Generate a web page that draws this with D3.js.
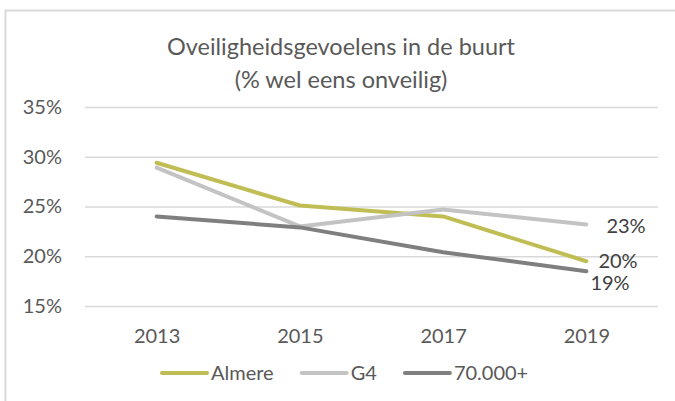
<!DOCTYPE html>
<html>
<head>
<meta charset="utf-8">
<script src="https://cdn.jsdelivr.net/npm/d3@7"></script>
<style>
  body { margin: 0; background: #fff; }
  text { font-family: Lato, "Noto Sans", sans-serif; }
</style>
</head>
<body>
<div id="chart"></div>
<script>
// data
const years = ["2013", "2015", "2017", "2019"];
const almere = [29.4, 25.1, 24.0, 19.5];
const g4 = [28.9, 23.0, 24.7, 23.2];
const plus70k = [24.0, 22.9, 20.4, 18.5];
const yTicks = [15, 20, 25, 30, 35];
const seriesNames = ["Almere", "G4", "70.000+"];
const titleLines = ["Oveiligheidsgevoelens in de buurt", "(% wel eens onveilig)"];

const width = 675;
const height = 401;

const series = [
  { name: seriesNames[0], values: almere, color: "#c1bd55", dx: 12, dy: 0 },
  { name: seriesNames[1], values: g4, color: "#c3c3c3", dx: 20, dy: 2 },
  { name: seriesNames[2], values: plus70k, color: "#7f7f7f", dx: 4, dy: 12 }
];

const svg = d3.select("#chart")
  .append("svg")
  .attr("width", width)
  .attr("height", height);

// frame
svg.append("rect")
  .attr("x", 5.5).attr("y", 10.5)
  .attr("width", 700).attr("height", 420)
  .attr("fill", "none")
  .attr("stroke", "#d9d9d9")
  .attr("stroke-width", 2);

// scales
const x = d3.scalePoint().domain(years).range([85, 658]).padding(0.5);
const y = d3.scaleLinear().domain([15, 35]).range([306, 107]);

// title
svg.append("text")
  .attr("x", 341)
  .attr("y", 55)
  .attr("text-anchor", "middle")
  .style("font-size", "23.5px")
  .attr("fill", "#595959")
  .selectAll("tspan")
  .data(titleLines)
  .join("tspan")
  .attr("x", 341)
  .attr("dy", (d, i) => i === 0 ? 0 : 33)
  .text(d => d);

// y axis with grid
const yAxis = svg.append("g")
  .attr("transform", "translate(85,0)")
  .call(d3.axisLeft(y).tickValues(yTicks).tickSize(-(658 - 85)).tickPadding(23).tickFormat(d => d + "%"));
yAxis.select(".domain").remove();
yAxis.selectAll("line").attr("stroke", "#d9d9d9").attr("stroke-width", 1.5);
yAxis.selectAll("text").attr("fill", "#595959").style("font-size", "20px");

// x axis
const xAxis = svg.append("g")
  .attr("transform", "translate(0,306)")
  .call(d3.axisBottom(x).tickSize(0).tickPadding(23));
xAxis.select(".domain").remove();
xAxis.selectAll("text").attr("fill", "#595959").style("font-size", "20px");

// lines
const line = d3.line()
  .x((d, i) => x(years[i]))
  .y(d => y(d));

svg.selectAll(".series")
  .data(series)
  .join("path")
  .attr("class", "series")
  .attr("fill", "none")
  .attr("stroke", d => d.color)
  .attr("stroke-width", 4)
  .attr("stroke-linecap", "round")
  .attr("stroke-linejoin", "round")
  .attr("d", d => line(d.values));

// end labels
svg.selectAll(".endlabel")
  .data(series)
  .join("text")
  .attr("class", "endlabel")
  .attr("x", d => x(years[years.length - 1]) + d.dx)
  .attr("y", d => y(d.values[d.values.length - 1]) + d.dy)
  .attr("dy", "0.35em")
  .attr("fill", "#404040")
  .style("font-size", "20px")
  .text(d => Math.round(d.values[d.values.length - 1]) + "%");

// legend
const legend = svg.append("g").attr("transform", "translate(0,373)");
let lx = 162;
series.forEach(s => {
  legend.append("line")
    .attr("x1", lx).attr("x2", lx + 45)
    .attr("y1", 0).attr("y2", 0)
    .attr("stroke", s.color)
    .attr("stroke-width", 4)
    .attr("stroke-linecap", "round");
  const t = legend.append("text")
    .attr("x", lx + 49)
    .attr("dy", "0.35em")
    .attr("fill", "#595959")
    .style("font-size", "20px")
    .text(s.name);
  lx += 49 + t.node().getComputedTextLength() + 28;
});
</script>
</body>
</html>
